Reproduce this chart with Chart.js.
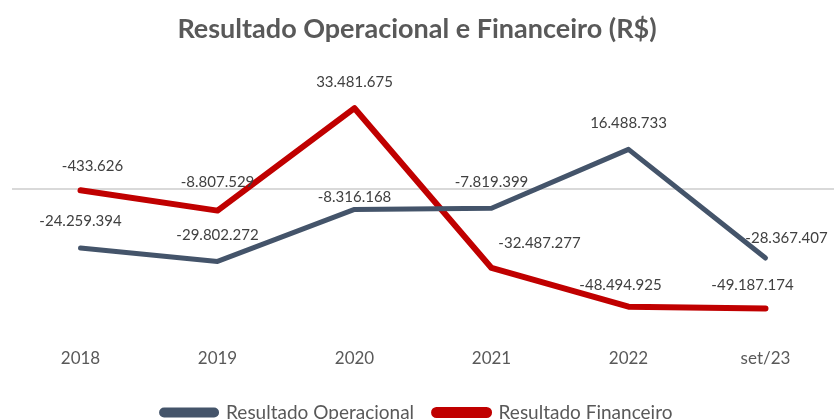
<!DOCTYPE html>
<html>
<head>
<meta charset="utf-8">
<script src="https://cdn.jsdelivr.net/npm/chart.js@4/dist/chart.umd.min.js"></script>
<style>
  html, body { margin: 0; padding: 0; background: #fff; overflow: hidden; }
  #wrap { position: relative; width: 834px; height: 432px; }
</style>
</head>
<body>
<div id="wrap"><canvas id="myChart"></canvas></div>
<script>
  /* Data */
  const categories = ['2018', '2019', '2020', '2021', '2022', 'set/23'];
  const operacional = [-24259394, -29802272, -8316168, -7819399, 16488733, -28367407];
  const financeiro = [-433626, -8807529, 33481675, -32487277, -48494925, -49187174];

  // label nudges (px) from each point, label centre
  const opOffsets = [[0, -27], [0, -26], [0, -12], [0, -26], [0, -26], [21, -20]];
  const finOffsets = [[12, -24], [0, -28], [0, -26], [48, -25], [-8, -22], [-13, -23]];

  const fontFamily = 'Lato, "Open Sans", sans-serif';

  function fmt(v) {
    const s = Math.abs(v).toString().replace(/\B(?=(\d{3})+(?!\d))/g, '.');
    return (v < 0 ? '-' : '') + s;
  }

  /* Data labels */
  const dataLabels = {
    id: 'dataLabels',
    afterDatasetsDraw(chart) {
      const ctx = chart.ctx;
      ctx.save();
      ctx.font = '15px ' + fontFamily;
      ctx.fillStyle = '#404040';
      ctx.textAlign = 'center';
      ctx.textBaseline = 'middle';
      chart.data.datasets.forEach((ds, i) => {
        const meta = chart.getDatasetMeta(i);
        meta.data.forEach((pt, j) => {
          const off = ds.labelOffsets[j];
          ctx.fillText(fmt(ds.data[j]), pt.x + off[0], pt.y + off[1]);
        });
      });
      ctx.restore();
    }
  };

  const ctx = document.getElementById('myChart').getContext('2d');
  const myChart = new Chart(ctx, {
    type: 'line',
    data: {
      labels: categories,
      datasets: [{
        label: 'Resultado Operacional',
        data: operacional,
        borderColor: '#44546A',
        backgroundColor: '#44546A',
        borderWidth: 5,
        labelOffsets: opOffsets,
      },
      {
        label: 'Resultado Financeiro',
        data: financeiro,
        borderColor: '#C00000',
        backgroundColor: '#C00000',
        borderWidth: 6,
        labelOffsets: finOffsets,
      }]
    },
    options: {
      responsive: true,
      maintainAspectRatio: false,
      animation: false,
      layout: { padding: 0 },
      elements: {
        point: { radius: 0 },
        line: { tension: 0, borderCapStyle: 'round', borderJoinStyle: 'round' }
      },
      scales: {
        x: {
          offset: true,
          grid: { display: false, drawTicks: false },
          border: { display: false },
          ticks: { color: '#595959', font: { size: 17, family: fontFamily }, padding: 14 }
        },
        y: {
          min: -60000000,
          max: 40000000,
          border: { display: false },
          ticks: { display: false, stepSize: 10000000 },
          grid: {
            drawTicks: false,
            lineWidth: 2,
            color: (c) => (c.tick && c.tick.value === 0 ? '#D9D9D9' : 'rgba(0,0,0,0)')
          },
          afterFit: (scale) => { scale.width = 12; }
        }
      },
      plugins: {
        title: {
          display: true,
          text: 'Resultado Operacional e Financeiro (R$)',
          color: '#595959',
          font: { size: 27, weight: 'bold', family: fontFamily },
          padding: { top: 13, bottom: 47 }
        },
        legend: {
          position: 'bottom',
          labels: {
            color: '#595959',
            font: { size: 19, family: fontFamily },
            boxWidth: 55,
            boxHeight: 5,
            padding: 20,
            useBorderRadius: true,
            borderRadius: 2.5
          }
        },
        tooltip: { enabled: false }
      }
    },
    plugins: [dataLabels]
  });
</script>
</body>
</html>
